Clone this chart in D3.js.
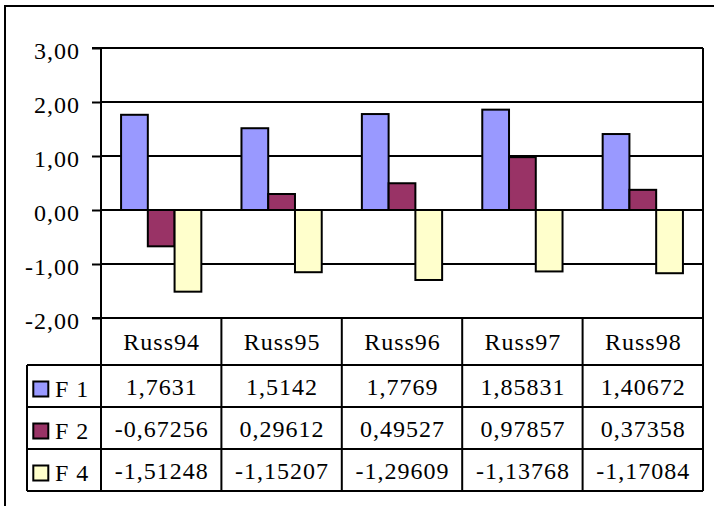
<!DOCTYPE html>
<html>
<head>
<meta charset="utf-8">
<script src="https://cdn.jsdelivr.net/npm/d3@7"></script>
<style>
  html, body { margin: 0; padding: 0; background: #fff; }
  text { font-family: "Liberation Serif", "Times New Roman", serif; fill: #000; letter-spacing: 1px; }
</style>
</head>
<body>
<svg id="chart" width="714" height="506"></svg>
<script>
// Factor scores per year
const categories = ["Russ94", "Russ95", "Russ96", "Russ97", "Russ98"];
const seriesNames = ["F 1", "F 2", "F 4"];
const f1Values = [1.7631, 1.5142, 1.7769, 1.85831, 1.40672];
const f2Values = [-0.67256, 0.29612, 0.49527, 0.97857, 0.37358];
const f4Values = [-1.51248, -1.15207, -1.29609, -1.13768, -1.17084];
const yTickValues = [-2, -1, 0, 1, 2, 3];
const seriesColors = ["#9999FF", "#993366", "#FFFFCC"];

const seriesValues = [f1Values, f2Values, f4Values];
const series = seriesNames.map((name, i) => ({ name, color: seriesColors[i], values: seriesValues[i] }));

const svg = d3.select("#chart");
const fontFamily = "Liberation Serif, Times New Roman, serif";
const fontSize = 24;
const lineW = 2;

// Plot frame
const plot = { left: 101, right: 703, top: 48, bottom: 318 };
const table = { legendLeft: 27, headerBottom: 365, rowH: 42 };

const x = d3.scaleBand().domain(categories).range([plot.left, plot.right]).padding(0);
const xInner = d3.scaleBand().domain(seriesNames).range([0, x.bandwidth()])
  .paddingInner(0).paddingOuter(0.75);
const y = d3.scaleLinear().domain([-2, 3]).range([plot.bottom, plot.top]);

const comma = v => String(v).replace(".", ",");
const fmtAxis = v => d3.format(".2f")(v).replace(".", ",").replace("−", "-");

// Chart area border (left and top edges)
svg.append("path")
  .attr("d", `M5,506 L5,6 L714,6`)
  .attr("fill", "none").attr("stroke", "#000").attr("stroke-width", lineW);

// Gridlines
svg.append("g").selectAll("line").data(yTickValues).join("line")
  .attr("x1", plot.left).attr("x2", plot.right)
  .attr("y1", d => Math.round(y(d))).attr("y2", d => Math.round(y(d)))
  .attr("stroke", "#000").attr("stroke-width", lineW);

// Right edge of plot area
svg.append("line")
  .attr("x1", plot.right).attr("x2", plot.right)
  .attr("y1", plot.top).attr("y2", plot.bottom)
  .attr("stroke", "#000").attr("stroke-width", lineW);

// Bars
const groups = svg.append("g").selectAll("g").data(series).join("g");
groups.selectAll("rect").data(s => s.values.map((v, i) => ({ v, cat: categories[i], s })))
  .join("rect")
  .attr("x", d => x(d.cat) + xInner(d.s.name))
  .attr("width", xInner.bandwidth())
  .attr("y", d => y(Math.max(0, d.v)))
  .attr("height", d => Math.abs(y(d.v) - y(0)))
  .attr("fill", d => d.s.color)
  .attr("stroke", "#000").attr("stroke-width", lineW);

// Y axis
const yAxis = d3.axisLeft(y).tickValues(yTickValues).tickSize(9).tickPadding(12)
  .tickFormat(fmtAxis);
const yg = svg.append("g").attr("transform", `translate(${plot.left},0)`).call(yAxis);
yg.select(".domain").attr("stroke", "#000").attr("stroke-width", lineW)
  .attr("d", `M-9,${plot.top}H0V${plot.bottom}H-9`);
yg.selectAll(".tick line").attr("stroke", "#000").attr("stroke-width", lineW);
yg.selectAll(".tick text")
  .attr("font-family", fontFamily).attr("font-size", fontSize)
  .attr("fill", "#000").attr("dy", "0.44em");

// Data table
const tableG = svg.append("g");
const rowTops = series.map((s, i) => table.headerBottom + i * table.rowH);
const tableBottom = table.headerBottom + series.length * table.rowH;
const tbl = d3.path();
// Horizontal rules
tbl.moveTo(plot.left, plot.bottom); tbl.lineTo(plot.right, plot.bottom);
[...rowTops, tableBottom].forEach(ry => { tbl.moveTo(table.legendLeft, ry); tbl.lineTo(plot.right, ry); });
// Vertical rules
tbl.moveTo(table.legendLeft, table.headerBottom); tbl.lineTo(table.legendLeft, tableBottom);
categories.forEach(c => { tbl.moveTo(x(c), plot.bottom); tbl.lineTo(x(c), tableBottom); });
tbl.moveTo(plot.right, plot.bottom); tbl.lineTo(plot.right, tableBottom);
tableG.append("path").attr("d", tbl.toString())
  .attr("fill", "none").attr("stroke", "#000").attr("stroke-width", lineW);

// Header labels
tableG.selectAll("text.cat").data(categories).join("text").attr("class", "cat")
  .attr("x", d => x(d) + x.bandwidth() / 2 + 0.5)
  .attr("y", (plot.bottom + table.headerBottom) / 2)
  .attr("dy", "0.37em")
  .attr("text-anchor", "middle").attr("font-size", fontSize)
  .text(d => d);

// Rows: legend key + values
const rows = tableG.selectAll("g.row").data(series).join("g").attr("class", "row")
  .attr("transform", (d, i) => `translate(0,${rowTops[i]})`);
rows.append("rect")
  .attr("x", 33.3).attr("y", 16.5).attr("width", 15).attr("height", 15)
  .attr("fill", d => d.color).attr("stroke", "#000").attr("stroke-width", lineW);
rows.append("text")
  .attr("x", 55).attr("y", table.rowH / 2).attr("dy", "0.44em")
  .attr("font-size", fontSize).text(d => d.name);
rows.selectAll("text.val").data(d => d.values.map((v, i) => ({ v, cat: categories[i] })))
  .join("text").attr("class", "val")
  .attr("x", d => x(d.cat) + x.bandwidth() / 2 + 0.5)
  .attr("y", table.rowH / 2).attr("dy", "0.37em")
  .attr("text-anchor", "middle").attr("font-size", fontSize)
  .text(d => comma(d.v));
</script>
</body>
</html>
